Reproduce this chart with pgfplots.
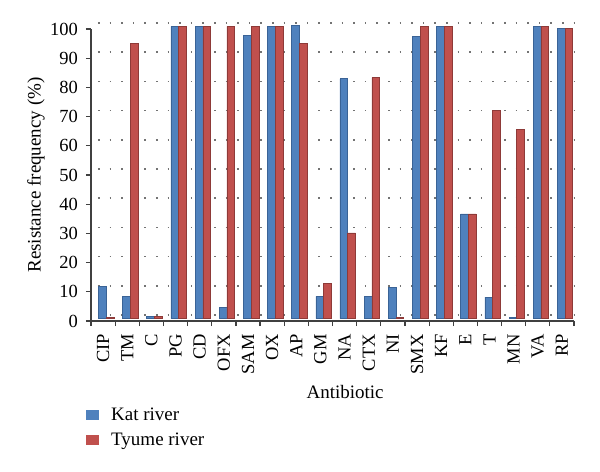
\documentclass[border=0pt]{standalone}
\usepackage{fontspec}
\setmainfont{Liberation Serif}
\usepackage{pgfplots}
\pgfplotsset{compat=1.18}
\definecolor{katblue}{HTML}{4F81BD}
\definecolor{katedge}{HTML}{3A6396}
\definecolor{tyred}{HTML}{C0504D}
\definecolor{tyedge}{HTML}{8E3A38}
\definecolor{axgray}{HTML}{404040}
\newcommand\labfont{\fontsize{19bp}{22bp}\selectfont}
\newcommand\tickfont{\fontsize{18.5bp}{21bp}\selectfont}
\begin{document}
\begin{tikzpicture}
\useasboundingbox (-91bp,-151bp) rectangle (509bp,321bp);
\begin{axis}[
  at={(0,0)}, anchor=south west,
  scale only axis, width=483bp, height=292bp,
  xmin=-0.5, xmax=19.5, ymin=0, ymax=100,
  clip=false,
  axis x line*=bottom, axis y line*=left,
  axis line style={axgray, line width=1.3bp, -},
  xtick={-0.5,0.5,...,19.5},
  x tick label as interval,
  xticklabels={CIP,TM,C,PG,CD,OFX,SAM,OX,AP,GM,NA,CTX,NI,SMX,KF,E,T,MN,VA,RP},
  ytick={0,10,...,100},
  tick align=outside, major tick length=5bp,
  tick style={axgray, line width=1.2bp},
  /pgf/number format/assume math mode=true,
  tick label style={font=\tickfont},
  xticklabel style={rotate=90, anchor=east, inner sep=0pt, xshift=-8bp},
  yticklabel style={anchor=east, inner sep=0pt, xshift=-8bp},
  ymajorgrids,
  major grid style={draw=black!55, line width=1.6bp, dash pattern=on 1.6bp off 10bp, xshift=7bp, yshift=6bp},
  xlabel={Antibiotic},
  ylabel={Resistance frequency (\%)},
  every axis x label/.style={at={(axis description cs:0.526,-0.243)}, anchor=center, font=\labfont},
  every axis y label/.style={at={(axis description cs:-0.114,0.5)}, rotate=90, anchor=center, font=\labfont},
  legend image code/.code={\fill[#1,yshift=-2.5bp,draw=none] (0bp,-5bp) rectangle (13bp,5bp);},
  legend style={at={(axis description cs:-0.0104,-0.292)}, anchor=north west, draw=none, fill=none,
    font=\labfont, row sep=9bp, column sep=11bp, inner sep=0pt, nodes={inner sep=1bp}},
  legend cell align=left,
]
\addplot[ybar, bar width=0.32, bar shift=-0.03, fill=katblue, draw=katedge, line width=0.6bp, yshift=2.5bp]
coordinates {(0,11) (1,7.5) (2,0.7) (3,100) (4,100) (5,3.9) (6,96.9) (7,100) (8,100.5) (9,7.6)
 (10,82.1) (11,7.6) (12,10.7) (13,96.6) (14,100) (15,35.8) (16,7.3) (17,0.3) (18,100) (19,99.3)};
\addplot[ybar, bar width=0.32, bar shift=0.29, fill=tyred, draw=tyedge, line width=0.6bp, yshift=2.5bp]
coordinates {(0,0.5) (1,94.1) (2,0.7) (3,100) (4,100) (5,100) (6,100) (7,100) (8,94.1) (9,11.9)
 (10,29.3) (11,82.5) (12,0.5) (13,100) (14,100) (15,35.8) (16,71.2) (17,64.8) (18,100) (19,99.3)};
\legend{Kat river, Tyume river}
\end{axis}
\end{tikzpicture}
\end{document}
